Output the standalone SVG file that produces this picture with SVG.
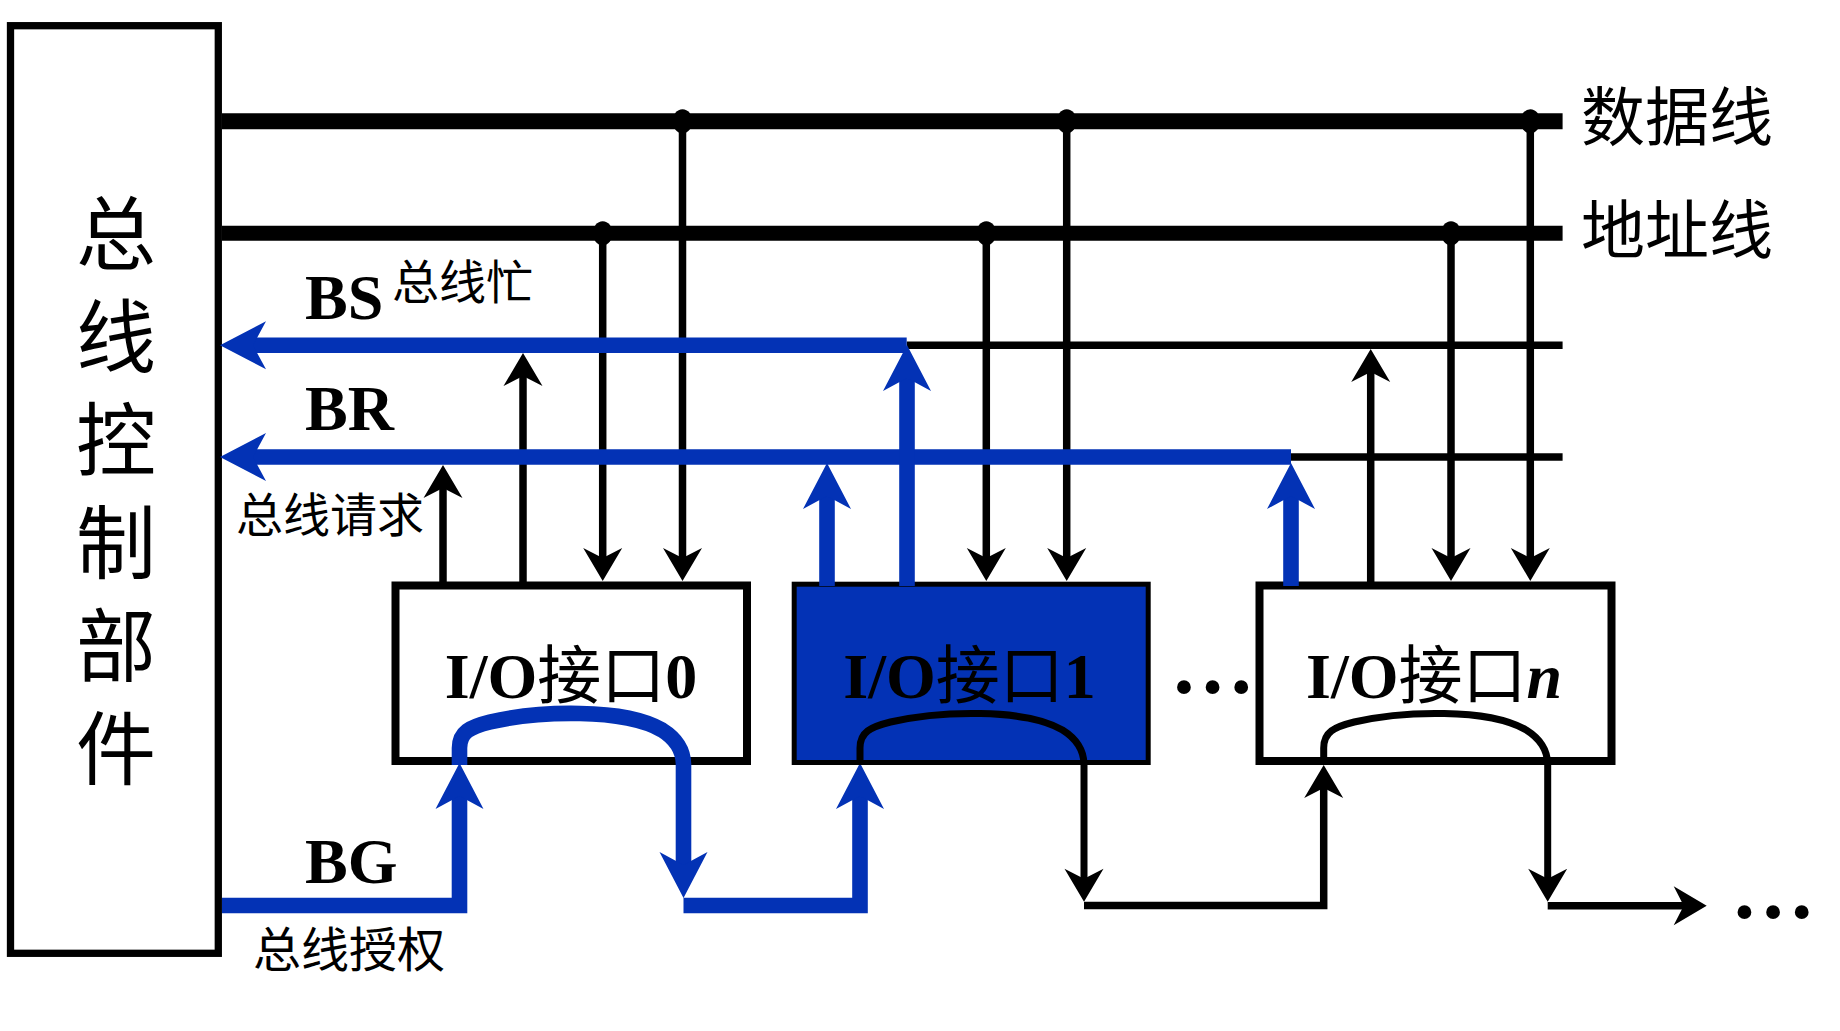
<svg xmlns="http://www.w3.org/2000/svg" width="1840" height="1031" viewBox="0 0 1840 1031">
  <style>
    .box { fill: #ffffff; stroke: #000000; stroke-width: 8; }
    .sel { fill: #0332B5; stroke: #000000; stroke-width: 5; }
    .bus { stroke: #000000; fill: none; }
    .thin { stroke: #000000; stroke-width: 7.5; fill: none; }
    .blue { stroke: #0332B5; stroke-width: 15.6; fill: none; stroke-linejoin: miter; }
    .arcb { stroke: #000000; stroke-width: 7; fill: none; }
    .lat { font-family: "Liberation Serif", "Times New Roman", serif; font-weight: bold; fill: #000; }
    .cjk { font-family: "Noto Sans CJK SC", "Noto Sans", sans-serif; fill: #000; }
    .big { font-family: "Noto Sans CJK SC", "Noto Sans", sans-serif; font-size: 80px; writing-mode: vertical-rl; letter-spacing: 23px; fill: #000; }
    .io { font-family: "Liberation Serif", "Noto Sans CJK SC", serif; font-weight: bold; font-size: 64px; text-anchor: middle; fill: #000; }
    .io .c { font-family: "Noto Sans CJK SC", sans-serif; font-weight: normal; }
  </style>
  <defs>
    <marker id="ak" markerUnits="userSpaceOnUse" orient="auto" refX="0" refY="0" markerWidth="60" markerHeight="60" overflow="visible">
      <path d="M20,0 L-13,-19.5 L-3,0 L-13,19.5 Z" fill="#000000"/>
    </marker>
    <marker id="ab" markerUnits="userSpaceOnUse" orient="auto" refX="0" refY="0" markerWidth="80" markerHeight="80" overflow="visible">
      <path d="M28,0 L-18,-24 L-5,0 L-18,24 Z" fill="#0332B5"/>
    </marker>
  </defs>

  <!-- nodes -->
  <g id="bus-controller">
    <rect x="10.5" y="25.7" width="207.8" height="927.6" fill="#ffffff" stroke="#000000" stroke-width="7.3"/>
    <text class="big" x="116" y="193">总线控制部件</text>
  </g>
  <g id="io0">
    <rect class="box" x="395.5" y="585.5" width="351.5" height="175.5"/>
    <text class="io" x="571" y="698">I/O<tspan class="c">接口</tspan>0</text>
  </g>
  <g id="io1">
    <rect class="sel" x="794.2" y="584.2" width="354" height="178.3"/>
    <text class="io" x="969.5" y="698">I/O<tspan class="c">接口</tspan>1</text>
  </g>
  <g id="ion">
    <rect class="box" x="1259.5" y="585.5" width="352" height="175.5"/>
    <text class="io" x="1434" y="698">I/O<tspan class="c">接口</tspan><tspan font-style="italic">n</tspan></text>
  </g>

  <!-- connectors -->
  <g id="connectors">
    <!-- data & address bus -->
    <path class="bus" d="M222 121.3 H1562.6" stroke-width="16"/>
    <path class="bus" d="M222 233.2 H1562.6" stroke-width="15"/>
    <ellipse cx="682.5" cy="121.3" rx="10" ry="12"/>
    <ellipse cx="1066.7" cy="121.3" rx="10" ry="12"/>
    <ellipse cx="1530.3" cy="121.3" rx="10" ry="12"/>
    <ellipse cx="602.7" cy="233.2" rx="10" ry="12"/>
    <ellipse cx="986.3" cy="233.2" rx="10" ry="12"/>
    <ellipse cx="1451" cy="233.2" rx="10" ry="12"/>
    <!-- BS / BR thin lines -->
    <path class="thin" d="M906.7 345.3 H1562.6"/>
    <path class="thin" d="M1291 457 H1562.6"/>
    <!-- bus to interfaces -->
    <path class="thin" d="M602.7 233 V561" marker-end="url(#ak)"/>
    <path class="thin" d="M682.5 121 V561" marker-end="url(#ak)"/>
    <path class="thin" d="M986.3 233 V561" marker-end="url(#ak)"/>
    <path class="thin" d="M1066.7 121 V561" marker-end="url(#ak)"/>
    <path class="thin" d="M1451 233 V561" marker-end="url(#ak)"/>
    <path class="thin" d="M1530.3 121 V561" marker-end="url(#ak)"/>
    <!-- interfaces up to BS / BR (black) -->
    <path class="thin" d="M443 585 V485" marker-end="url(#ak)"/>
    <path class="thin" d="M523 585 V373" marker-end="url(#ak)"/>
    <path class="thin" d="M1370.7 585 V369" marker-end="url(#ak)"/>
    <!-- blue BS / BR -->
    <path class="blue" d="M906.7 345.3 H248" marker-end="url(#ab)"/>
    <path class="blue" d="M1291 457 H248" marker-end="url(#ab)"/>
    <path class="blue" d="M827 586 V491" marker-end="url(#ab)"/>
    <path class="blue" d="M907 586 V373" marker-end="url(#ab)"/>
    <path class="blue" d="M1291 586 V491" marker-end="url(#ab)"/>
    <!-- BG daisy chain -->
    <path class="blue" d="M222 905.5 H459.5 V791" marker-end="url(#ab)"/>
    <path class="blue" d="M459.5 765 L459.5 748 C459.5 732 470 727 490 722 C520 715 555 713 580 713.5 C615 714 645 720 662 730 C678 740 683.5 752 683.5 765 L683.5 870" marker-end="url(#ab)"/>
    <path class="blue" d="M683.5 905.5 H860 V791" marker-end="url(#ab)"/>
    <path class="arcb" d="M860 765 L860 748 C860 732 870.5 727 890.5 722 C920.5 715 955.5 713 980.5 713.5 C1015.5 714 1045.5 720 1062.5 730 C1078.5 740 1084 752 1084 765 L1084 881.7" marker-end="url(#ak)"/>
    <path class="thin" d="M1084 905.5 H1323.7 V785" marker-end="url(#ak)"/>
    <path class="arcb" d="M1323.7 765 L1323.7 748 C1323.7 732 1334.2 727 1354.2 722 C1384.2 715 1419.2 713 1444.2 713.5 C1479.2 714 1509.2 720 1526.2 730 C1542.2 740 1547.7 752 1547.7 765 L1547.7 881.7" marker-end="url(#ak)"/>
    <path class="thin" d="M1547.7 905.8 H1686.7" marker-end="url(#ak)"/>
  </g>

  <!-- labels -->
  <g id="labels">
    <text class="cjk" x="1581" y="139.5" font-size="64">数据线</text>
    <text class="cjk" x="1581" y="252.5" font-size="64">地址线</text>
    <text class="lat" x="305" y="319" font-size="64">BS</text>
    <text class="cjk" x="392" y="298.7" font-size="47">总线忙</text>
    <text class="lat" x="305" y="430" font-size="64">BR</text>
    <text class="cjk" x="236" y="531.7" font-size="47">总线请求</text>
    <text class="lat" x="305" y="883" font-size="64">BG</text>
    <text class="cjk" x="253" y="966.6" font-size="48">总线授权</text>
    <text class="lat" x="1212.5" y="693" font-size="85" text-anchor="middle">…</text>
    <text class="lat" x="1773" y="918" font-size="85" text-anchor="middle">…</text>
  </g>
</svg>
